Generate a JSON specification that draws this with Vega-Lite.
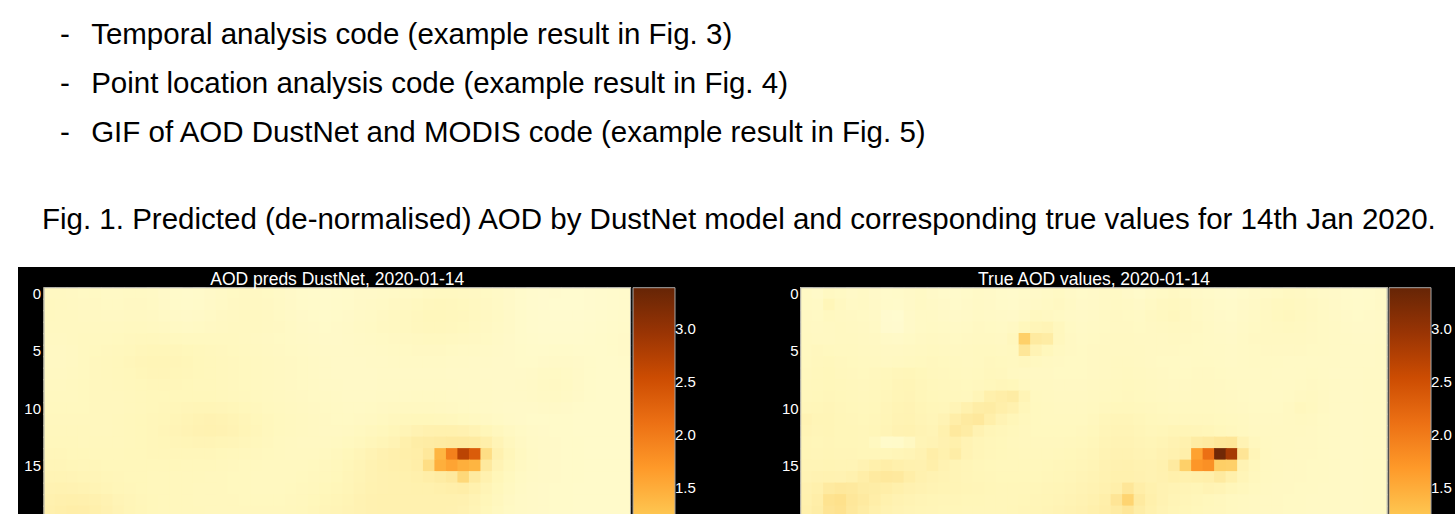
{
"$schema":"https://vega.github.io/schema/vega-lite/v6.json",
"background":"white",
"padding":{"left":18,"top":20,"right":0,"bottom":0},
"title":{"text":["-\u00a0\u00a0\u2006Temporal analysis code (example result in Fig. 3)","-\u00a0\u00a0\u2006Point location analysis code (example result in Fig. 4)","-\u00a0\u00a0\u2006GIF of AOD DustNet and MODIS code (example result in Fig. 5)"],"anchor":"start","frame":"group","dx":42,"offset":56,"font":"Liberation Sans","fontSize":29.5,"fontWeight":"normal","color":"black","lineHeight":49,"baseline":"top"},
"datasets":{
"left":[
{"c":0,"r":0,"v":0.36},{"c":1,"r":0,"v":0.36},{"c":2,"r":0,"v":0.35},{"c":3,"r":0,"v":0.34},{"c":4,"r":0,"v":0.34},{"c":5,"r":0,"v":0.33},{"c":6,"r":0,"v":0.33},{"c":7,"r":0,"v":0.34},{"c":8,"r":0,"v":0.34},{"c":9,"r":0,"v":0.33},{"c":10,"r":0,"v":0.30},{"c":11,"r":0,"v":0.28},{"c":12,"r":0,"v":0.27},{"c":13,"r":0,"v":0.28},{"c":14,"r":0,"v":0.30},{"c":15,"r":0,"v":0.32},{"c":16,"r":0,"v":0.34},{"c":17,"r":0,"v":0.35},{"c":18,"r":0,"v":0.35},{"c":19,"r":0,"v":0.34},{"c":20,"r":0,"v":0.32},{"c":21,"r":0,"v":0.30},{"c":22,"r":0,"v":0.28},{"c":23,"r":0,"v":0.27},{"c":24,"r":0,"v":0.26},{"c":25,"r":0,"v":0.27},{"c":26,"r":0,"v":0.28},{"c":27,"r":0,"v":0.30},{"c":28,"r":0,"v":0.30},{"c":29,"r":0,"v":0.31},{"c":30,"r":0,"v":0.32},{"c":31,"r":0,"v":0.33},{"c":32,"r":0,"v":0.34},{"c":33,"r":0,"v":0.36},{"c":34,"r":0,"v":0.37},{"c":35,"r":0,"v":0.37},{"c":36,"r":0,"v":0.36},{"c":37,"r":0,"v":0.35},{"c":38,"r":0,"v":0.34},{"c":39,"r":0,"v":0.32},{"c":40,"r":0,"v":0.30},{"c":41,"r":0,"v":0.27},{"c":42,"r":0,"v":0.25},{"c":43,"r":0,"v":0.24},{"c":44,"r":0,"v":0.24},{"c":45,"r":0,"v":0.23},{"c":46,"r":0,"v":0.23},{"c":47,"r":0,"v":0.24},{"c":48,"r":0,"v":0.25},{"c":49,"r":0,"v":0.26},{"c":50,"r":0,"v":0.27},
{"c":0,"r":1,"v":0.38},{"c":1,"r":1,"v":0.37},{"c":2,"r":1,"v":0.36},{"c":3,"r":1,"v":0.35},{"c":4,"r":1,"v":0.35},{"c":5,"r":1,"v":0.34},{"c":6,"r":1,"v":0.34},{"c":7,"r":1,"v":0.35},{"c":8,"r":1,"v":0.35},{"c":9,"r":1,"v":0.34},{"c":10,"r":1,"v":0.31},{"c":11,"r":1,"v":0.29},{"c":12,"r":1,"v":0.28},{"c":13,"r":1,"v":0.29},{"c":14,"r":1,"v":0.31},{"c":15,"r":1,"v":0.33},{"c":16,"r":1,"v":0.35},{"c":17,"r":1,"v":0.36},{"c":18,"r":1,"v":0.36},{"c":19,"r":1,"v":0.35},{"c":20,"r":1,"v":0.33},{"c":21,"r":1,"v":0.31},{"c":22,"r":1,"v":0.29},{"c":23,"r":1,"v":0.28},{"c":24,"r":1,"v":0.27},{"c":25,"r":1,"v":0.28},{"c":26,"r":1,"v":0.29},{"c":27,"r":1,"v":0.31},{"c":28,"r":1,"v":0.32},{"c":29,"r":1,"v":0.33},{"c":30,"r":1,"v":0.35},{"c":31,"r":1,"v":0.36},{"c":32,"r":1,"v":0.38},{"c":33,"r":1,"v":0.40},{"c":34,"r":1,"v":0.41},{"c":35,"r":1,"v":0.40},{"c":36,"r":1,"v":0.39},{"c":37,"r":1,"v":0.37},{"c":38,"r":1,"v":0.35},{"c":39,"r":1,"v":0.33},{"c":40,"r":1,"v":0.30},{"c":41,"r":1,"v":0.27},{"c":42,"r":1,"v":0.25},{"c":43,"r":1,"v":0.24},{"c":44,"r":1,"v":0.23},{"c":45,"r":1,"v":0.23},{"c":46,"r":1,"v":0.23},{"c":47,"r":1,"v":0.24},{"c":48,"r":1,"v":0.25},{"c":49,"r":1,"v":0.26},{"c":50,"r":1,"v":0.27},
{"c":0,"r":2,"v":0.38},{"c":1,"r":2,"v":0.37},{"c":2,"r":2,"v":0.37},{"c":3,"r":2,"v":0.36},{"c":4,"r":2,"v":0.36},{"c":5,"r":2,"v":0.35},{"c":6,"r":2,"v":0.35},{"c":7,"r":2,"v":0.36},{"c":8,"r":2,"v":0.36},{"c":9,"r":2,"v":0.35},{"c":10,"r":2,"v":0.33},{"c":11,"r":2,"v":0.31},{"c":12,"r":2,"v":0.30},{"c":13,"r":2,"v":0.31},{"c":14,"r":2,"v":0.33},{"c":15,"r":2,"v":0.35},{"c":16,"r":2,"v":0.36},{"c":17,"r":2,"v":0.37},{"c":18,"r":2,"v":0.37},{"c":19,"r":2,"v":0.36},{"c":20,"r":2,"v":0.34},{"c":21,"r":2,"v":0.32},{"c":22,"r":2,"v":0.30},{"c":23,"r":2,"v":0.29},{"c":24,"r":2,"v":0.28},{"c":25,"r":2,"v":0.29},{"c":26,"r":2,"v":0.30},{"c":27,"r":2,"v":0.32},{"c":28,"r":2,"v":0.33},{"c":29,"r":2,"v":0.35},{"c":30,"r":2,"v":0.37},{"c":31,"r":2,"v":0.38},{"c":32,"r":2,"v":0.40},{"c":33,"r":2,"v":0.42},{"c":34,"r":2,"v":0.42},{"c":35,"r":2,"v":0.41},{"c":36,"r":2,"v":0.40},{"c":37,"r":2,"v":0.38},{"c":38,"r":2,"v":0.36},{"c":39,"r":2,"v":0.34},{"c":40,"r":2,"v":0.31},{"c":41,"r":2,"v":0.28},{"c":42,"r":2,"v":0.26},{"c":43,"r":2,"v":0.25},{"c":44,"r":2,"v":0.24},{"c":45,"r":2,"v":0.24},{"c":46,"r":2,"v":0.24},{"c":47,"r":2,"v":0.25},{"c":48,"r":2,"v":0.26},{"c":49,"r":2,"v":0.27},{"c":50,"r":2,"v":0.28},
{"c":0,"r":3,"v":0.37},{"c":1,"r":3,"v":0.37},{"c":2,"r":3,"v":0.37},{"c":3,"r":3,"v":0.37},{"c":4,"r":3,"v":0.37},{"c":5,"r":3,"v":0.37},{"c":6,"r":3,"v":0.37},{"c":7,"r":3,"v":0.38},{"c":8,"r":3,"v":0.38},{"c":9,"r":3,"v":0.37},{"c":10,"r":3,"v":0.36},{"c":11,"r":3,"v":0.34},{"c":12,"r":3,"v":0.33},{"c":13,"r":3,"v":0.34},{"c":14,"r":3,"v":0.35},{"c":15,"r":3,"v":0.36},{"c":16,"r":3,"v":0.37},{"c":17,"r":3,"v":0.37},{"c":18,"r":3,"v":0.37},{"c":19,"r":3,"v":0.36},{"c":20,"r":3,"v":0.35},{"c":21,"r":3,"v":0.33},{"c":22,"r":3,"v":0.31},{"c":23,"r":3,"v":0.30},{"c":24,"r":3,"v":0.29},{"c":25,"r":3,"v":0.30},{"c":26,"r":3,"v":0.31},{"c":27,"r":3,"v":0.33},{"c":28,"r":3,"v":0.34},{"c":29,"r":3,"v":0.36},{"c":30,"r":3,"v":0.37},{"c":31,"r":3,"v":0.38},{"c":32,"r":3,"v":0.40},{"c":33,"r":3,"v":0.41},{"c":34,"r":3,"v":0.41},{"c":35,"r":3,"v":0.40},{"c":36,"r":3,"v":0.39},{"c":37,"r":3,"v":0.37},{"c":38,"r":3,"v":0.35},{"c":39,"r":3,"v":0.33},{"c":40,"r":3,"v":0.31},{"c":41,"r":3,"v":0.28},{"c":42,"r":3,"v":0.26},{"c":43,"r":3,"v":0.25},{"c":44,"r":3,"v":0.25},{"c":45,"r":3,"v":0.25},{"c":46,"r":3,"v":0.25},{"c":47,"r":3,"v":0.26},{"c":48,"r":3,"v":0.27},{"c":49,"r":3,"v":0.28},{"c":50,"r":3,"v":0.29},
{"c":0,"r":4,"v":0.36},{"c":1,"r":4,"v":0.36},{"c":2,"r":4,"v":0.37},{"c":3,"r":4,"v":0.38},{"c":4,"r":4,"v":0.38},{"c":5,"r":4,"v":0.38},{"c":6,"r":4,"v":0.39},{"c":7,"r":4,"v":0.40},{"c":8,"r":4,"v":0.41},{"c":9,"r":4,"v":0.41},{"c":10,"r":4,"v":0.40},{"c":11,"r":4,"v":0.39},{"c":12,"r":4,"v":0.38},{"c":13,"r":4,"v":0.38},{"c":14,"r":4,"v":0.38},{"c":15,"r":4,"v":0.38},{"c":16,"r":4,"v":0.38},{"c":17,"r":4,"v":0.37},{"c":18,"r":4,"v":0.36},{"c":19,"r":4,"v":0.35},{"c":20,"r":4,"v":0.34},{"c":21,"r":4,"v":0.33},{"c":22,"r":4,"v":0.32},{"c":23,"r":4,"v":0.31},{"c":24,"r":4,"v":0.30},{"c":25,"r":4,"v":0.30},{"c":26,"r":4,"v":0.31},{"c":27,"r":4,"v":0.32},{"c":28,"r":4,"v":0.33},{"c":29,"r":4,"v":0.34},{"c":30,"r":4,"v":0.35},{"c":31,"r":4,"v":0.36},{"c":32,"r":4,"v":0.37},{"c":33,"r":4,"v":0.38},{"c":34,"r":4,"v":0.38},{"c":35,"r":4,"v":0.37},{"c":36,"r":4,"v":0.36},{"c":37,"r":4,"v":0.35},{"c":38,"r":4,"v":0.34},{"c":39,"r":4,"v":0.32},{"c":40,"r":4,"v":0.30},{"c":41,"r":4,"v":0.28},{"c":42,"r":4,"v":0.27},{"c":43,"r":4,"v":0.26},{"c":44,"r":4,"v":0.26},{"c":45,"r":4,"v":0.26},{"c":46,"r":4,"v":0.26},{"c":47,"r":4,"v":0.27},{"c":48,"r":4,"v":0.28},{"c":49,"r":4,"v":0.29},{"c":50,"r":4,"v":0.30},
{"c":0,"r":5,"v":0.35},{"c":1,"r":5,"v":0.35},{"c":2,"r":5,"v":0.36},{"c":3,"r":5,"v":0.38},{"c":4,"r":5,"v":0.39},{"c":5,"r":5,"v":0.40},{"c":6,"r":5,"v":0.41},{"c":7,"r":5,"v":0.42},{"c":8,"r":5,"v":0.44},{"c":9,"r":5,"v":0.45},{"c":10,"r":5,"v":0.45},{"c":11,"r":5,"v":0.44},{"c":12,"r":5,"v":0.43},{"c":13,"r":5,"v":0.42},{"c":14,"r":5,"v":0.41},{"c":15,"r":5,"v":0.40},{"c":16,"r":5,"v":0.39},{"c":17,"r":5,"v":0.38},{"c":18,"r":5,"v":0.37},{"c":19,"r":5,"v":0.36},{"c":20,"r":5,"v":0.35},{"c":21,"r":5,"v":0.34},{"c":22,"r":5,"v":0.33},{"c":23,"r":5,"v":0.32},{"c":24,"r":5,"v":0.31},{"c":25,"r":5,"v":0.31},{"c":26,"r":5,"v":0.31},{"c":27,"r":5,"v":0.32},{"c":28,"r":5,"v":0.32},{"c":29,"r":5,"v":0.33},{"c":30,"r":5,"v":0.34},{"c":31,"r":5,"v":0.34},{"c":32,"r":5,"v":0.35},{"c":33,"r":5,"v":0.35},{"c":34,"r":5,"v":0.35},{"c":35,"r":5,"v":0.34},{"c":36,"r":5,"v":0.33},{"c":37,"r":5,"v":0.33},{"c":38,"r":5,"v":0.32},{"c":39,"r":5,"v":0.31},{"c":40,"r":5,"v":0.30},{"c":41,"r":5,"v":0.29},{"c":42,"r":5,"v":0.28},{"c":43,"r":5,"v":0.28},{"c":44,"r":5,"v":0.29},{"c":45,"r":5,"v":0.29},{"c":46,"r":5,"v":0.28},{"c":47,"r":5,"v":0.28},{"c":48,"r":5,"v":0.28},{"c":49,"r":5,"v":0.29},{"c":50,"r":5,"v":0.30},
{"c":0,"r":6,"v":0.35},{"c":1,"r":6,"v":0.35},{"c":2,"r":6,"v":0.36},{"c":3,"r":6,"v":0.38},{"c":4,"r":6,"v":0.40},{"c":5,"r":6,"v":0.41},{"c":6,"r":6,"v":0.42},{"c":7,"r":6,"v":0.44},{"c":8,"r":6,"v":0.46},{"c":9,"r":6,"v":0.47},{"c":10,"r":6,"v":0.47},{"c":11,"r":6,"v":0.46},{"c":12,"r":6,"v":0.45},{"c":13,"r":6,"v":0.43},{"c":14,"r":6,"v":0.42},{"c":15,"r":6,"v":0.41},{"c":16,"r":6,"v":0.40},{"c":17,"r":6,"v":0.39},{"c":18,"r":6,"v":0.38},{"c":19,"r":6,"v":0.37},{"c":20,"r":6,"v":0.36},{"c":21,"r":6,"v":0.35},{"c":22,"r":6,"v":0.34},{"c":23,"r":6,"v":0.33},{"c":24,"r":6,"v":0.32},{"c":25,"r":6,"v":0.31},{"c":26,"r":6,"v":0.31},{"c":27,"r":6,"v":0.31},{"c":28,"r":6,"v":0.32},{"c":29,"r":6,"v":0.32},{"c":30,"r":6,"v":0.33},{"c":31,"r":6,"v":0.33},{"c":32,"r":6,"v":0.33},{"c":33,"r":6,"v":0.33},{"c":34,"r":6,"v":0.33},{"c":35,"r":6,"v":0.32},{"c":36,"r":6,"v":0.32},{"c":37,"r":6,"v":0.31},{"c":38,"r":6,"v":0.31},{"c":39,"r":6,"v":0.30},{"c":40,"r":6,"v":0.30},{"c":41,"r":6,"v":0.29},{"c":42,"r":6,"v":0.29},{"c":43,"r":6,"v":0.30},{"c":44,"r":6,"v":0.31},{"c":45,"r":6,"v":0.31},{"c":46,"r":6,"v":0.30},{"c":47,"r":6,"v":0.29},{"c":48,"r":6,"v":0.28},{"c":49,"r":6,"v":0.28},{"c":50,"r":6,"v":0.29},
{"c":0,"r":7,"v":0.36},{"c":1,"r":7,"v":0.36},{"c":2,"r":7,"v":0.37},{"c":3,"r":7,"v":0.38},{"c":4,"r":7,"v":0.40},{"c":5,"r":7,"v":0.41},{"c":6,"r":7,"v":0.42},{"c":7,"r":7,"v":0.43},{"c":8,"r":7,"v":0.45},{"c":9,"r":7,"v":0.46},{"c":10,"r":7,"v":0.46},{"c":11,"r":7,"v":0.45},{"c":12,"r":7,"v":0.44},{"c":13,"r":7,"v":0.43},{"c":14,"r":7,"v":0.42},{"c":15,"r":7,"v":0.41},{"c":16,"r":7,"v":0.40},{"c":17,"r":7,"v":0.39},{"c":18,"r":7,"v":0.38},{"c":19,"r":7,"v":0.37},{"c":20,"r":7,"v":0.36},{"c":21,"r":7,"v":0.35},{"c":22,"r":7,"v":0.34},{"c":23,"r":7,"v":0.33},{"c":24,"r":7,"v":0.32},{"c":25,"r":7,"v":0.31},{"c":26,"r":7,"v":0.31},{"c":27,"r":7,"v":0.31},{"c":28,"r":7,"v":0.31},{"c":29,"r":7,"v":0.32},{"c":30,"r":7,"v":0.32},{"c":31,"r":7,"v":0.32},{"c":32,"r":7,"v":0.32},{"c":33,"r":7,"v":0.32},{"c":34,"r":7,"v":0.32},{"c":35,"r":7,"v":0.31},{"c":36,"r":7,"v":0.31},{"c":37,"r":7,"v":0.31},{"c":38,"r":7,"v":0.30},{"c":39,"r":7,"v":0.30},{"c":40,"r":7,"v":0.30},{"c":41,"r":7,"v":0.30},{"c":42,"r":7,"v":0.31},{"c":43,"r":7,"v":0.33},{"c":44,"r":7,"v":0.34},{"c":45,"r":7,"v":0.33},{"c":46,"r":7,"v":0.31},{"c":47,"r":7,"v":0.29},{"c":48,"r":7,"v":0.28},{"c":49,"r":7,"v":0.28},{"c":50,"r":7,"v":0.28},
{"c":0,"r":8,"v":0.37},{"c":1,"r":8,"v":0.37},{"c":2,"r":8,"v":0.38},{"c":3,"r":8,"v":0.39},{"c":4,"r":8,"v":0.40},{"c":5,"r":8,"v":0.40},{"c":6,"r":8,"v":0.41},{"c":7,"r":8,"v":0.42},{"c":8,"r":8,"v":0.43},{"c":9,"r":8,"v":0.44},{"c":10,"r":8,"v":0.44},{"c":11,"r":8,"v":0.44},{"c":12,"r":8,"v":0.43},{"c":13,"r":8,"v":0.42},{"c":14,"r":8,"v":0.42},{"c":15,"r":8,"v":0.41},{"c":16,"r":8,"v":0.40},{"c":17,"r":8,"v":0.39},{"c":18,"r":8,"v":0.38},{"c":19,"r":8,"v":0.37},{"c":20,"r":8,"v":0.36},{"c":21,"r":8,"v":0.35},{"c":22,"r":8,"v":0.34},{"c":23,"r":8,"v":0.33},{"c":24,"r":8,"v":0.32},{"c":25,"r":8,"v":0.32},{"c":26,"r":8,"v":0.31},{"c":27,"r":8,"v":0.31},{"c":28,"r":8,"v":0.31},{"c":29,"r":8,"v":0.32},{"c":30,"r":8,"v":0.32},{"c":31,"r":8,"v":0.32},{"c":32,"r":8,"v":0.32},{"c":33,"r":8,"v":0.32},{"c":34,"r":8,"v":0.32},{"c":35,"r":8,"v":0.32},{"c":36,"r":8,"v":0.31},{"c":37,"r":8,"v":0.31},{"c":38,"r":8,"v":0.31},{"c":39,"r":8,"v":0.30},{"c":40,"r":8,"v":0.30},{"c":41,"r":8,"v":0.31},{"c":42,"r":8,"v":0.32},{"c":43,"r":8,"v":0.34},{"c":44,"r":8,"v":0.35},{"c":45,"r":8,"v":0.34},{"c":46,"r":8,"v":0.31},{"c":47,"r":8,"v":0.29},{"c":48,"r":8,"v":0.28},{"c":49,"r":8,"v":0.28},{"c":50,"r":8,"v":0.28},
{"c":0,"r":9,"v":0.38},{"c":1,"r":9,"v":0.38},{"c":2,"r":9,"v":0.38},{"c":3,"r":9,"v":0.39},{"c":4,"r":9,"v":0.40},{"c":5,"r":9,"v":0.40},{"c":6,"r":9,"v":0.40},{"c":7,"r":9,"v":0.41},{"c":8,"r":9,"v":0.42},{"c":9,"r":9,"v":0.43},{"c":10,"r":9,"v":0.43},{"c":11,"r":9,"v":0.43},{"c":12,"r":9,"v":0.43},{"c":13,"r":9,"v":0.43},{"c":14,"r":9,"v":0.43},{"c":15,"r":9,"v":0.42},{"c":16,"r":9,"v":0.41},{"c":17,"r":9,"v":0.40},{"c":18,"r":9,"v":0.39},{"c":19,"r":9,"v":0.38},{"c":20,"r":9,"v":0.37},{"c":21,"r":9,"v":0.36},{"c":22,"r":9,"v":0.35},{"c":23,"r":9,"v":0.34},{"c":24,"r":9,"v":0.33},{"c":25,"r":9,"v":0.33},{"c":26,"r":9,"v":0.32},{"c":27,"r":9,"v":0.32},{"c":28,"r":9,"v":0.32},{"c":29,"r":9,"v":0.33},{"c":30,"r":9,"v":0.33},{"c":31,"r":9,"v":0.33},{"c":32,"r":9,"v":0.34},{"c":33,"r":9,"v":0.34},{"c":34,"r":9,"v":0.34},{"c":35,"r":9,"v":0.33},{"c":36,"r":9,"v":0.33},{"c":37,"r":9,"v":0.32},{"c":38,"r":9,"v":0.32},{"c":39,"r":9,"v":0.31},{"c":40,"r":9,"v":0.31},{"c":41,"r":9,"v":0.31},{"c":42,"r":9,"v":0.32},{"c":43,"r":9,"v":0.33},{"c":44,"r":9,"v":0.34},{"c":45,"r":9,"v":0.33},{"c":46,"r":9,"v":0.31},{"c":47,"r":9,"v":0.29},{"c":48,"r":9,"v":0.28},{"c":49,"r":9,"v":0.28},{"c":50,"r":9,"v":0.28},
{"c":0,"r":10,"v":0.39},{"c":1,"r":10,"v":0.39},{"c":2,"r":10,"v":0.39},{"c":3,"r":10,"v":0.39},{"c":4,"r":10,"v":0.40},{"c":5,"r":10,"v":0.40},{"c":6,"r":10,"v":0.40},{"c":7,"r":10,"v":0.41},{"c":8,"r":10,"v":0.42},{"c":9,"r":10,"v":0.43},{"c":10,"r":10,"v":0.44},{"c":11,"r":10,"v":0.45},{"c":12,"r":10,"v":0.46},{"c":13,"r":10,"v":0.47},{"c":14,"r":10,"v":0.47},{"c":15,"r":10,"v":0.46},{"c":16,"r":10,"v":0.45},{"c":17,"r":10,"v":0.43},{"c":18,"r":10,"v":0.41},{"c":19,"r":10,"v":0.39},{"c":20,"r":10,"v":0.38},{"c":21,"r":10,"v":0.37},{"c":22,"r":10,"v":0.36},{"c":23,"r":10,"v":0.35},{"c":24,"r":10,"v":0.34},{"c":25,"r":10,"v":0.34},{"c":26,"r":10,"v":0.33},{"c":27,"r":10,"v":0.33},{"c":28,"r":10,"v":0.34},{"c":29,"r":10,"v":0.35},{"c":30,"r":10,"v":0.36},{"c":31,"r":10,"v":0.37},{"c":32,"r":10,"v":0.37},{"c":33,"r":10,"v":0.37},{"c":34,"r":10,"v":0.36},{"c":35,"r":10,"v":0.35},{"c":36,"r":10,"v":0.34},{"c":37,"r":10,"v":0.33},{"c":38,"r":10,"v":0.32},{"c":39,"r":10,"v":0.31},{"c":40,"r":10,"v":0.30},{"c":41,"r":10,"v":0.30},{"c":42,"r":10,"v":0.30},{"c":43,"r":10,"v":0.31},{"c":44,"r":10,"v":0.31},{"c":45,"r":10,"v":0.30},{"c":46,"r":10,"v":0.29},{"c":47,"r":10,"v":0.28},{"c":48,"r":10,"v":0.28},{"c":49,"r":10,"v":0.28},{"c":50,"r":10,"v":0.28},
{"c":0,"r":11,"v":0.40},{"c":1,"r":11,"v":0.40},{"c":2,"r":11,"v":0.40},{"c":3,"r":11,"v":0.40},{"c":4,"r":11,"v":0.40},{"c":5,"r":11,"v":0.40},{"c":6,"r":11,"v":0.41},{"c":7,"r":11,"v":0.42},{"c":8,"r":11,"v":0.43},{"c":9,"r":11,"v":0.44},{"c":10,"r":11,"v":0.45},{"c":11,"r":11,"v":0.47},{"c":12,"r":11,"v":0.49},{"c":13,"r":11,"v":0.51},{"c":14,"r":11,"v":0.52},{"c":15,"r":11,"v":0.51},{"c":16,"r":11,"v":0.49},{"c":17,"r":11,"v":0.46},{"c":18,"r":11,"v":0.43},{"c":19,"r":11,"v":0.41},{"c":20,"r":11,"v":0.39},{"c":21,"r":11,"v":0.38},{"c":22,"r":11,"v":0.37},{"c":23,"r":11,"v":0.36},{"c":24,"r":11,"v":0.35},{"c":25,"r":11,"v":0.34},{"c":26,"r":11,"v":0.34},{"c":27,"r":11,"v":0.35},{"c":28,"r":11,"v":0.36},{"c":29,"r":11,"v":0.38},{"c":30,"r":11,"v":0.40},{"c":31,"r":11,"v":0.42},{"c":32,"r":11,"v":0.43},{"c":33,"r":11,"v":0.43},{"c":34,"r":11,"v":0.42},{"c":35,"r":11,"v":0.41},{"c":36,"r":11,"v":0.39},{"c":37,"r":11,"v":0.37},{"c":38,"r":11,"v":0.35},{"c":39,"r":11,"v":0.33},{"c":40,"r":11,"v":0.31},{"c":41,"r":11,"v":0.30},{"c":42,"r":11,"v":0.29},{"c":43,"r":11,"v":0.29},{"c":44,"r":11,"v":0.29},{"c":45,"r":11,"v":0.29},{"c":46,"r":11,"v":0.28},{"c":47,"r":11,"v":0.28},{"c":48,"r":11,"v":0.28},{"c":49,"r":11,"v":0.28},{"c":50,"r":11,"v":0.28},
{"c":0,"r":12,"v":0.41},{"c":1,"r":12,"v":0.41},{"c":2,"r":12,"v":0.41},{"c":3,"r":12,"v":0.41},{"c":4,"r":12,"v":0.40},{"c":5,"r":12,"v":0.40},{"c":6,"r":12,"v":0.41},{"c":7,"r":12,"v":0.42},{"c":8,"r":12,"v":0.43},{"c":9,"r":12,"v":0.44},{"c":10,"r":12,"v":0.46},{"c":11,"r":12,"v":0.48},{"c":12,"r":12,"v":0.50},{"c":13,"r":12,"v":0.52},{"c":14,"r":12,"v":0.53},{"c":15,"r":12,"v":0.52},{"c":16,"r":12,"v":0.50},{"c":17,"r":12,"v":0.47},{"c":18,"r":12,"v":0.44},{"c":19,"r":12,"v":0.41},{"c":20,"r":12,"v":0.39},{"c":21,"r":12,"v":0.38},{"c":22,"r":12,"v":0.37},{"c":23,"r":12,"v":0.36},{"c":24,"r":12,"v":0.35},{"c":25,"r":12,"v":0.35},{"c":26,"r":12,"v":0.36},{"c":27,"r":12,"v":0.38},{"c":28,"r":12,"v":0.40},{"c":29,"r":12,"v":0.42},{"c":30,"r":12,"v":0.45},{"c":31,"r":12,"v":0.48},{"c":32,"r":12,"v":0.52},{"c":33,"r":12,"v":0.55},{"c":34,"r":12,"v":0.56},{"c":35,"r":12,"v":0.56},{"c":36,"r":12,"v":0.54},{"c":37,"r":12,"v":0.50},{"c":38,"r":12,"v":0.45},{"c":39,"r":12,"v":0.40},{"c":40,"r":12,"v":0.36},{"c":41,"r":12,"v":0.33},{"c":42,"r":12,"v":0.31},{"c":43,"r":12,"v":0.30},{"c":44,"r":12,"v":0.29},{"c":45,"r":12,"v":0.29},{"c":46,"r":12,"v":0.28},{"c":47,"r":12,"v":0.28},{"c":48,"r":12,"v":0.28},{"c":49,"r":12,"v":0.28},{"c":50,"r":12,"v":0.28},
{"c":0,"r":13,"v":0.42},{"c":1,"r":13,"v":0.42},{"c":2,"r":13,"v":0.42},{"c":3,"r":13,"v":0.41},{"c":4,"r":13,"v":0.41},{"c":5,"r":13,"v":0.41},{"c":6,"r":13,"v":0.41},{"c":7,"r":13,"v":0.42},{"c":8,"r":13,"v":0.43},{"c":9,"r":13,"v":0.44},{"c":10,"r":13,"v":0.45},{"c":11,"r":13,"v":0.46},{"c":12,"r":13,"v":0.47},{"c":13,"r":13,"v":0.48},{"c":14,"r":13,"v":0.48},{"c":15,"r":13,"v":0.47},{"c":16,"r":13,"v":0.46},{"c":17,"r":13,"v":0.44},{"c":18,"r":13,"v":0.42},{"c":19,"r":13,"v":0.40},{"c":20,"r":13,"v":0.38},{"c":21,"r":13,"v":0.37},{"c":22,"r":13,"v":0.36},{"c":23,"r":13,"v":0.36},{"c":24,"r":13,"v":0.36},{"c":25,"r":13,"v":0.37},{"c":26,"r":13,"v":0.39},{"c":27,"r":13,"v":0.41},{"c":28,"r":13,"v":0.44},{"c":29,"r":13,"v":0.47},{"c":30,"r":13,"v":0.50},{"c":31,"r":13,"v":0.58},{"c":32,"r":13,"v":0.64},{"c":33,"r":13,"v":0.66},{"c":34,"r":13,"v":0.68},{"c":35,"r":13,"v":0.70},{"c":36,"r":13,"v":0.70},{"c":37,"r":13,"v":0.68},{"c":38,"r":13,"v":0.60},{"c":39,"r":13,"v":0.48},{"c":40,"r":13,"v":0.40},{"c":41,"r":13,"v":0.35},{"c":42,"r":13,"v":0.32},{"c":43,"r":13,"v":0.31},{"c":44,"r":13,"v":0.30},{"c":45,"r":13,"v":0.29},{"c":46,"r":13,"v":0.29},{"c":47,"r":13,"v":0.28},{"c":48,"r":13,"v":0.28},{"c":49,"r":13,"v":0.28},{"c":50,"r":13,"v":0.28},
{"c":0,"r":14,"v":0.44},{"c":1,"r":14,"v":0.44},{"c":2,"r":14,"v":0.43},{"c":3,"r":14,"v":0.43},{"c":4,"r":14,"v":0.42},{"c":5,"r":14,"v":0.42},{"c":6,"r":14,"v":0.42},{"c":7,"r":14,"v":0.43},{"c":8,"r":14,"v":0.43},{"c":9,"r":14,"v":0.44},{"c":10,"r":14,"v":0.44},{"c":11,"r":14,"v":0.44},{"c":12,"r":14,"v":0.44},{"c":13,"r":14,"v":0.44},{"c":14,"r":14,"v":0.44},{"c":15,"r":14,"v":0.43},{"c":16,"r":14,"v":0.42},{"c":17,"r":14,"v":0.41},{"c":18,"r":14,"v":0.40},{"c":19,"r":14,"v":0.39},{"c":20,"r":14,"v":0.38},{"c":21,"r":14,"v":0.37},{"c":22,"r":14,"v":0.37},{"c":23,"r":14,"v":0.37},{"c":24,"r":14,"v":0.38},{"c":25,"r":14,"v":0.40},{"c":26,"r":14,"v":0.43},{"c":27,"r":14,"v":0.46},{"c":28,"r":14,"v":0.50},{"c":29,"r":14,"v":0.54},{"c":30,"r":14,"v":0.57},{"c":31,"r":14,"v":0.60},{"c":32,"r":14,"v":0.62},{"c":33,"r":14,"v":0.75},{"c":34,"r":14,"v":1.42},{"c":35,"r":14,"v":1.95},{"c":36,"r":14,"v":2.68},{"c":37,"r":14,"v":2.35},{"c":38,"r":14,"v":0.92},{"c":39,"r":14,"v":0.55},{"c":40,"r":14,"v":0.44},{"c":41,"r":14,"v":0.37},{"c":42,"r":14,"v":0.33},{"c":43,"r":14,"v":0.31},{"c":44,"r":14,"v":0.30},{"c":45,"r":14,"v":0.29},{"c":46,"r":14,"v":0.29},{"c":47,"r":14,"v":0.28},{"c":48,"r":14,"v":0.28},{"c":49,"r":14,"v":0.28},{"c":50,"r":14,"v":0.28},
{"c":0,"r":15,"v":0.46},{"c":1,"r":15,"v":0.46},{"c":2,"r":15,"v":0.45},{"c":3,"r":15,"v":0.44},{"c":4,"r":15,"v":0.44},{"c":5,"r":15,"v":0.43},{"c":6,"r":15,"v":0.43},{"c":7,"r":15,"v":0.43},{"c":8,"r":15,"v":0.43},{"c":9,"r":15,"v":0.43},{"c":10,"r":15,"v":0.43},{"c":11,"r":15,"v":0.43},{"c":12,"r":15,"v":0.42},{"c":13,"r":15,"v":0.42},{"c":14,"r":15,"v":0.42},{"c":15,"r":15,"v":0.41},{"c":16,"r":15,"v":0.40},{"c":17,"r":15,"v":0.39},{"c":18,"r":15,"v":0.39},{"c":19,"r":15,"v":0.38},{"c":20,"r":15,"v":0.38},{"c":21,"r":15,"v":0.38},{"c":22,"r":15,"v":0.38},{"c":23,"r":15,"v":0.39},{"c":24,"r":15,"v":0.40},{"c":25,"r":15,"v":0.42},{"c":26,"r":15,"v":0.45},{"c":27,"r":15,"v":0.48},{"c":28,"r":15,"v":0.52},{"c":29,"r":15,"v":0.55},{"c":30,"r":15,"v":0.57},{"c":31,"r":15,"v":0.58},{"c":32,"r":15,"v":0.62},{"c":33,"r":15,"v":0.92},{"c":34,"r":15,"v":1.48},{"c":35,"r":15,"v":1.58},{"c":36,"r":15,"v":1.48},{"c":37,"r":15,"v":1.42},{"c":38,"r":15,"v":0.72},{"c":39,"r":15,"v":0.50},{"c":40,"r":15,"v":0.42},{"c":41,"r":15,"v":0.36},{"c":42,"r":15,"v":0.33},{"c":43,"r":15,"v":0.31},{"c":44,"r":15,"v":0.30},{"c":45,"r":15,"v":0.29},{"c":46,"r":15,"v":0.29},{"c":47,"r":15,"v":0.28},{"c":48,"r":15,"v":0.28},{"c":49,"r":15,"v":0.28},{"c":50,"r":15,"v":0.28},
{"c":0,"r":16,"v":0.49},{"c":1,"r":16,"v":0.49},{"c":2,"r":16,"v":0.48},{"c":3,"r":16,"v":0.47},{"c":4,"r":16,"v":0.46},{"c":5,"r":16,"v":0.45},{"c":6,"r":16,"v":0.44},{"c":7,"r":16,"v":0.43},{"c":8,"r":16,"v":0.43},{"c":9,"r":16,"v":0.42},{"c":10,"r":16,"v":0.42},{"c":11,"r":16,"v":0.41},{"c":12,"r":16,"v":0.41},{"c":13,"r":16,"v":0.41},{"c":14,"r":16,"v":0.40},{"c":15,"r":16,"v":0.40},{"c":16,"r":16,"v":0.39},{"c":17,"r":16,"v":0.39},{"c":18,"r":16,"v":0.38},{"c":19,"r":16,"v":0.38},{"c":20,"r":16,"v":0.38},{"c":21,"r":16,"v":0.38},{"c":22,"r":16,"v":0.39},{"c":23,"r":16,"v":0.40},{"c":24,"r":16,"v":0.41},{"c":25,"r":16,"v":0.43},{"c":26,"r":16,"v":0.46},{"c":27,"r":16,"v":0.49},{"c":28,"r":16,"v":0.52},{"c":29,"r":16,"v":0.54},{"c":30,"r":16,"v":0.55},{"c":31,"r":16,"v":0.56},{"c":32,"r":16,"v":0.58},{"c":33,"r":16,"v":0.62},{"c":34,"r":16,"v":0.66},{"c":35,"r":16,"v":0.72},{"c":36,"r":16,"v":1.00},{"c":37,"r":16,"v":0.70},{"c":38,"r":16,"v":0.55},{"c":39,"r":16,"v":0.45},{"c":40,"r":16,"v":0.39},{"c":41,"r":16,"v":0.34},{"c":42,"r":16,"v":0.32},{"c":43,"r":16,"v":0.31},{"c":44,"r":16,"v":0.30},{"c":45,"r":16,"v":0.29},{"c":46,"r":16,"v":0.29},{"c":47,"r":16,"v":0.28},{"c":48,"r":16,"v":0.28},{"c":49,"r":16,"v":0.28},{"c":50,"r":16,"v":0.28},
{"c":0,"r":17,"v":0.52},{"c":1,"r":17,"v":0.53},{"c":2,"r":17,"v":0.52},{"c":3,"r":17,"v":0.51},{"c":4,"r":17,"v":0.49},{"c":5,"r":17,"v":0.47},{"c":6,"r":17,"v":0.45},{"c":7,"r":17,"v":0.44},{"c":8,"r":17,"v":0.43},{"c":9,"r":17,"v":0.42},{"c":10,"r":17,"v":0.42},{"c":11,"r":17,"v":0.41},{"c":12,"r":17,"v":0.41},{"c":13,"r":17,"v":0.40},{"c":14,"r":17,"v":0.40},{"c":15,"r":17,"v":0.40},{"c":16,"r":17,"v":0.39},{"c":17,"r":17,"v":0.39},{"c":18,"r":17,"v":0.38},{"c":19,"r":17,"v":0.38},{"c":20,"r":17,"v":0.38},{"c":21,"r":17,"v":0.39},{"c":22,"r":17,"v":0.40},{"c":23,"r":17,"v":0.41},{"c":24,"r":17,"v":0.43},{"c":25,"r":17,"v":0.45},{"c":26,"r":17,"v":0.47},{"c":27,"r":17,"v":0.50},{"c":28,"r":17,"v":0.53},{"c":29,"r":17,"v":0.54},{"c":30,"r":17,"v":0.55},{"c":31,"r":17,"v":0.55},{"c":32,"r":17,"v":0.56},{"c":33,"r":17,"v":0.56},{"c":34,"r":17,"v":0.58},{"c":35,"r":17,"v":0.60},{"c":36,"r":17,"v":0.62},{"c":37,"r":17,"v":0.56},{"c":38,"r":17,"v":0.48},{"c":39,"r":17,"v":0.42},{"c":40,"r":17,"v":0.37},{"c":41,"r":17,"v":0.33},{"c":42,"r":17,"v":0.31},{"c":43,"r":17,"v":0.30},{"c":44,"r":17,"v":0.29},{"c":45,"r":17,"v":0.29},{"c":46,"r":17,"v":0.28},{"c":47,"r":17,"v":0.28},{"c":48,"r":17,"v":0.28},{"c":49,"r":17,"v":0.28},{"c":50,"r":17,"v":0.28},
{"c":0,"r":18,"v":0.55},{"c":1,"r":18,"v":0.57},{"c":2,"r":18,"v":0.58},{"c":3,"r":18,"v":0.57},{"c":4,"r":18,"v":0.55},{"c":5,"r":18,"v":0.52},{"c":6,"r":18,"v":0.48},{"c":7,"r":18,"v":0.46},{"c":8,"r":18,"v":0.44},{"c":9,"r":18,"v":0.43},{"c":10,"r":18,"v":0.42},{"c":11,"r":18,"v":0.41},{"c":12,"r":18,"v":0.41},{"c":13,"r":18,"v":0.40},{"c":14,"r":18,"v":0.40},{"c":15,"r":18,"v":0.40},{"c":16,"r":18,"v":0.40},{"c":17,"r":18,"v":0.39},{"c":18,"r":18,"v":0.39},{"c":19,"r":18,"v":0.39},{"c":20,"r":18,"v":0.39},{"c":21,"r":18,"v":0.40},{"c":22,"r":18,"v":0.41},{"c":23,"r":18,"v":0.43},{"c":24,"r":18,"v":0.45},{"c":25,"r":18,"v":0.47},{"c":26,"r":18,"v":0.49},{"c":27,"r":18,"v":0.52},{"c":28,"r":18,"v":0.54},{"c":29,"r":18,"v":0.55},{"c":30,"r":18,"v":0.55},{"c":31,"r":18,"v":0.55},{"c":32,"r":18,"v":0.55},{"c":33,"r":18,"v":0.55},{"c":34,"r":18,"v":0.55},{"c":35,"r":18,"v":0.55},{"c":36,"r":18,"v":0.54},{"c":37,"r":18,"v":0.50},{"c":38,"r":18,"v":0.45},{"c":39,"r":18,"v":0.40},{"c":40,"r":18,"v":0.35},{"c":41,"r":18,"v":0.32},{"c":42,"r":18,"v":0.31},{"c":43,"r":18,"v":0.30},{"c":44,"r":18,"v":0.29},{"c":45,"r":18,"v":0.29},{"c":46,"r":18,"v":0.28},{"c":47,"r":18,"v":0.28},{"c":48,"r":18,"v":0.28},{"c":49,"r":18,"v":0.28},{"c":50,"r":18,"v":0.28},
{"c":0,"r":19,"v":0.57},{"c":1,"r":19,"v":0.60},{"c":2,"r":19,"v":0.62},{"c":3,"r":19,"v":0.61},{"c":4,"r":19,"v":0.58},{"c":5,"r":19,"v":0.54},{"c":6,"r":19,"v":0.50},{"c":7,"r":19,"v":0.47},{"c":8,"r":19,"v":0.45},{"c":9,"r":19,"v":0.43},{"c":10,"r":19,"v":0.42},{"c":11,"r":19,"v":0.41},{"c":12,"r":19,"v":0.41},{"c":13,"r":19,"v":0.41},{"c":14,"r":19,"v":0.40},{"c":15,"r":19,"v":0.40},{"c":16,"r":19,"v":0.40},{"c":17,"r":19,"v":0.40},{"c":18,"r":19,"v":0.40},{"c":19,"r":19,"v":0.40},{"c":20,"r":19,"v":0.40},{"c":21,"r":19,"v":0.41},{"c":22,"r":19,"v":0.42},{"c":23,"r":19,"v":0.44},{"c":24,"r":19,"v":0.46},{"c":25,"r":19,"v":0.48},{"c":26,"r":19,"v":0.50},{"c":27,"r":19,"v":0.52},{"c":28,"r":19,"v":0.54},{"c":29,"r":19,"v":0.55},{"c":30,"r":19,"v":0.55},{"c":31,"r":19,"v":0.55},{"c":32,"r":19,"v":0.55},{"c":33,"r":19,"v":0.55},{"c":34,"r":19,"v":0.55},{"c":35,"r":19,"v":0.54},{"c":36,"r":19,"v":0.52},{"c":37,"r":19,"v":0.48},{"c":38,"r":19,"v":0.43},{"c":39,"r":19,"v":0.38},{"c":40,"r":19,"v":0.34},{"c":41,"r":19,"v":0.32},{"c":42,"r":19,"v":0.31},{"c":43,"r":19,"v":0.30},{"c":44,"r":19,"v":0.29},{"c":45,"r":19,"v":0.29},{"c":46,"r":19,"v":0.28},{"c":47,"r":19,"v":0.28},{"c":48,"r":19,"v":0.28},{"c":49,"r":19,"v":0.28},{"c":50,"r":19,"v":0.28}
],
"right":[
{"c":0,"r":0,"v":0.33},{"c":1,"r":0,"v":0.30},{"c":2,"r":0,"v":0.36},{"c":3,"r":0,"v":0.34},{"c":4,"r":0,"v":0.31},{"c":5,"r":0,"v":0.33},{"c":6,"r":0,"v":0.30},{"c":7,"r":0,"v":0.28},{"c":8,"r":0,"v":0.29},{"c":9,"r":0,"v":0.31},{"c":10,"r":0,"v":0.33},{"c":11,"r":0,"v":0.30},{"c":12,"r":0,"v":0.28},{"c":13,"r":0,"v":0.27},{"c":14,"r":0,"v":0.29},{"c":15,"r":0,"v":0.31},{"c":16,"r":0,"v":0.30},{"c":17,"r":0,"v":0.28},{"c":18,"r":0,"v":0.27},{"c":19,"r":0,"v":0.29},{"c":20,"r":0,"v":0.30},{"c":21,"r":0,"v":0.32},{"c":22,"r":0,"v":0.34},{"c":23,"r":0,"v":0.31},{"c":24,"r":0,"v":0.29},{"c":25,"r":0,"v":0.30},{"c":26,"r":0,"v":0.32},{"c":27,"r":0,"v":0.33},{"c":28,"r":0,"v":0.30},{"c":29,"r":0,"v":0.28},{"c":30,"r":0,"v":0.31},{"c":31,"r":0,"v":0.33},{"c":32,"r":0,"v":0.35},{"c":33,"r":0,"v":0.32},{"c":34,"r":0,"v":0.30},{"c":35,"r":0,"v":0.29},{"c":36,"r":0,"v":0.27},{"c":37,"r":0,"v":0.26},{"c":38,"r":0,"v":0.28},{"c":39,"r":0,"v":0.30},{"c":40,"r":0,"v":0.32},{"c":41,"r":0,"v":0.34},{"c":42,"r":0,"v":0.36},{"c":43,"r":0,"v":0.35},{"c":44,"r":0,"v":0.33},{"c":45,"r":0,"v":0.31},{"c":46,"r":0,"v":0.30},{"c":47,"r":0,"v":0.28},{"c":48,"r":0,"v":0.27},{"c":49,"r":0,"v":0.28},{"c":50,"r":0,"v":0.30},
{"c":0,"r":1,"v":0.34},{"c":1,"r":1,"v":0.33},{"c":2,"r":1,"v":0.45},{"c":3,"r":1,"v":0.37},{"c":4,"r":1,"v":0.33},{"c":5,"r":1,"v":0.34},{"c":6,"r":1,"v":0.31},{"c":7,"r":1,"v":0.29},{"c":8,"r":1,"v":0.28},{"c":9,"r":1,"v":0.31},{"c":10,"r":1,"v":0.34},{"c":11,"r":1,"v":0.32},{"c":12,"r":1,"v":0.30},{"c":13,"r":1,"v":0.28},{"c":14,"r":1,"v":0.30},{"c":15,"r":1,"v":0.32},{"c":16,"r":1,"v":0.31},{"c":17,"r":1,"v":0.29},{"c":18,"r":1,"v":0.28},{"c":19,"r":1,"v":0.30},{"c":20,"r":1,"v":0.32},{"c":21,"r":1,"v":0.34},{"c":22,"r":1,"v":0.36},{"c":23,"r":1,"v":0.33},{"c":24,"r":1,"v":0.30},{"c":25,"r":1,"v":0.31},{"c":26,"r":1,"v":0.33},{"c":27,"r":1,"v":0.34},{"c":28,"r":1,"v":0.33},{"c":29,"r":1,"v":0.31},{"c":30,"r":1,"v":0.34},{"c":31,"r":1,"v":0.37},{"c":32,"r":1,"v":0.38},{"c":33,"r":1,"v":0.36},{"c":34,"r":1,"v":0.33},{"c":35,"r":1,"v":0.31},{"c":36,"r":1,"v":0.29},{"c":37,"r":1,"v":0.28},{"c":38,"r":1,"v":0.30},{"c":39,"r":1,"v":0.32},{"c":40,"r":1,"v":0.35},{"c":41,"r":1,"v":0.38},{"c":42,"r":1,"v":0.39},{"c":43,"r":1,"v":0.37},{"c":44,"r":1,"v":0.35},{"c":45,"r":1,"v":0.33},{"c":46,"r":1,"v":0.31},{"c":47,"r":1,"v":0.29},{"c":48,"r":1,"v":0.28},{"c":49,"r":1,"v":0.29},{"c":50,"r":1,"v":0.31},
{"c":0,"r":2,"v":0.35},{"c":1,"r":2,"v":0.34},{"c":2,"r":2,"v":0.38},{"c":3,"r":2,"v":0.36},{"c":4,"r":2,"v":0.35},{"c":5,"r":2,"v":0.34},{"c":6,"r":2,"v":0.32},{"c":7,"r":2,"v":0.24},{"c":8,"r":2,"v":0.23},{"c":9,"r":2,"v":0.30},{"c":10,"r":2,"v":0.33},{"c":11,"r":2,"v":0.33},{"c":12,"r":2,"v":0.31},{"c":13,"r":2,"v":0.30},{"c":14,"r":2,"v":0.31},{"c":15,"r":2,"v":0.33},{"c":16,"r":2,"v":0.32},{"c":17,"r":2,"v":0.31},{"c":18,"r":2,"v":0.30},{"c":19,"r":2,"v":0.33},{"c":20,"r":2,"v":0.38},{"c":21,"r":2,"v":0.36},{"c":22,"r":2,"v":0.34},{"c":23,"r":2,"v":0.32},{"c":24,"r":2,"v":0.31},{"c":25,"r":2,"v":0.32},{"c":26,"r":2,"v":0.34},{"c":27,"r":2,"v":0.35},{"c":28,"r":2,"v":0.34},{"c":29,"r":2,"v":0.33},{"c":30,"r":2,"v":0.36},{"c":31,"r":2,"v":0.38},{"c":32,"r":2,"v":0.40},{"c":33,"r":2,"v":0.37},{"c":34,"r":2,"v":0.34},{"c":35,"r":2,"v":0.32},{"c":36,"r":2,"v":0.30},{"c":37,"r":2,"v":0.29},{"c":38,"r":2,"v":0.31},{"c":39,"r":2,"v":0.33},{"c":40,"r":2,"v":0.36},{"c":41,"r":2,"v":0.39},{"c":42,"r":2,"v":0.40},{"c":43,"r":2,"v":0.38},{"c":44,"r":2,"v":0.36},{"c":45,"r":2,"v":0.34},{"c":46,"r":2,"v":0.32},{"c":47,"r":2,"v":0.30},{"c":48,"r":2,"v":0.29},{"c":49,"r":2,"v":0.30},{"c":50,"r":2,"v":0.31},
{"c":0,"r":3,"v":0.36},{"c":1,"r":3,"v":0.35},{"c":2,"r":3,"v":0.36},{"c":3,"r":3,"v":0.37},{"c":4,"r":3,"v":0.36},{"c":5,"r":3,"v":0.35},{"c":6,"r":3,"v":0.33},{"c":7,"r":3,"v":0.25},{"c":8,"r":3,"v":0.24},{"c":9,"r":3,"v":0.30},{"c":10,"r":3,"v":0.33},{"c":11,"r":3,"v":0.34},{"c":12,"r":3,"v":0.33},{"c":13,"r":3,"v":0.32},{"c":14,"r":3,"v":0.33},{"c":15,"r":3,"v":0.35},{"c":16,"r":3,"v":0.34},{"c":17,"r":3,"v":0.33},{"c":18,"r":3,"v":0.35},{"c":19,"r":3,"v":0.42},{"c":20,"r":3,"v":0.46},{"c":21,"r":3,"v":0.48},{"c":22,"r":3,"v":0.40},{"c":23,"r":3,"v":0.34},{"c":24,"r":3,"v":0.32},{"c":25,"r":3,"v":0.33},{"c":26,"r":3,"v":0.34},{"c":27,"r":3,"v":0.35},{"c":28,"r":3,"v":0.35},{"c":29,"r":3,"v":0.34},{"c":30,"r":3,"v":0.35},{"c":31,"r":3,"v":0.36},{"c":32,"r":3,"v":0.37},{"c":33,"r":3,"v":0.36},{"c":34,"r":3,"v":0.35},{"c":35,"r":3,"v":0.33},{"c":36,"r":3,"v":0.31},{"c":37,"r":3,"v":0.30},{"c":38,"r":3,"v":0.32},{"c":39,"r":3,"v":0.34},{"c":40,"r":3,"v":0.36},{"c":41,"r":3,"v":0.37},{"c":42,"r":3,"v":0.38},{"c":43,"r":3,"v":0.37},{"c":44,"r":3,"v":0.35},{"c":45,"r":3,"v":0.34},{"c":46,"r":3,"v":0.33},{"c":47,"r":3,"v":0.31},{"c":48,"r":3,"v":0.30},{"c":49,"r":3,"v":0.30},{"c":50,"r":3,"v":0.31},
{"c":0,"r":4,"v":0.37},{"c":1,"r":4,"v":0.36},{"c":2,"r":4,"v":0.36},{"c":3,"r":4,"v":0.37},{"c":4,"r":4,"v":0.37},{"c":5,"r":4,"v":0.36},{"c":6,"r":4,"v":0.35},{"c":7,"r":4,"v":0.32},{"c":8,"r":4,"v":0.31},{"c":9,"r":4,"v":0.33},{"c":10,"r":4,"v":0.35},{"c":11,"r":4,"v":0.36},{"c":12,"r":4,"v":0.35},{"c":13,"r":4,"v":0.34},{"c":14,"r":4,"v":0.35},{"c":15,"r":4,"v":0.36},{"c":16,"r":4,"v":0.36},{"c":17,"r":4,"v":0.35},{"c":18,"r":4,"v":0.40},{"c":19,"r":4,"v":1.10},{"c":20,"r":4,"v":0.70},{"c":21,"r":4,"v":0.66},{"c":22,"r":4,"v":0.40},{"c":23,"r":4,"v":0.35},{"c":24,"r":4,"v":0.33},{"c":25,"r":4,"v":0.34},{"c":26,"r":4,"v":0.35},{"c":27,"r":4,"v":0.36},{"c":28,"r":4,"v":0.36},{"c":29,"r":4,"v":0.35},{"c":30,"r":4,"v":0.35},{"c":31,"r":4,"v":0.35},{"c":32,"r":4,"v":0.36},{"c":33,"r":4,"v":0.35},{"c":34,"r":4,"v":0.34},{"c":35,"r":4,"v":0.33},{"c":36,"r":4,"v":0.32},{"c":37,"r":4,"v":0.31},{"c":38,"r":4,"v":0.33},{"c":39,"r":4,"v":0.35},{"c":40,"r":4,"v":0.36},{"c":41,"r":4,"v":0.36},{"c":42,"r":4,"v":0.36},{"c":43,"r":4,"v":0.36},{"c":44,"r":4,"v":0.35},{"c":45,"r":4,"v":0.34},{"c":46,"r":4,"v":0.33},{"c":47,"r":4,"v":0.32},{"c":48,"r":4,"v":0.31},{"c":49,"r":4,"v":0.31},{"c":50,"r":4,"v":0.32},
{"c":0,"r":5,"v":0.38},{"c":1,"r":5,"v":0.40},{"c":2,"r":5,"v":0.39},{"c":3,"r":5,"v":0.38},{"c":4,"r":5,"v":0.38},{"c":5,"r":5,"v":0.37},{"c":6,"r":5,"v":0.36},{"c":7,"r":5,"v":0.35},{"c":8,"r":5,"v":0.35},{"c":9,"r":5,"v":0.36},{"c":10,"r":5,"v":0.37},{"c":11,"r":5,"v":0.38},{"c":12,"r":5,"v":0.37},{"c":13,"r":5,"v":0.36},{"c":14,"r":5,"v":0.37},{"c":15,"r":5,"v":0.38},{"c":16,"r":5,"v":0.38},{"c":17,"r":5,"v":0.37},{"c":18,"r":5,"v":0.38},{"c":19,"r":5,"v":0.78},{"c":20,"r":5,"v":0.50},{"c":21,"r":5,"v":0.42},{"c":22,"r":5,"v":0.37},{"c":23,"r":5,"v":0.35},{"c":24,"r":5,"v":0.34},{"c":25,"r":5,"v":0.35},{"c":26,"r":5,"v":0.36},{"c":27,"r":5,"v":0.36},{"c":28,"r":5,"v":0.36},{"c":29,"r":5,"v":0.36},{"c":30,"r":5,"v":0.35},{"c":31,"r":5,"v":0.35},{"c":32,"r":5,"v":0.35},{"c":33,"r":5,"v":0.34},{"c":34,"r":5,"v":0.34},{"c":35,"r":5,"v":0.33},{"c":36,"r":5,"v":0.33},{"c":37,"r":5,"v":0.32},{"c":38,"r":5,"v":0.33},{"c":39,"r":5,"v":0.34},{"c":40,"r":5,"v":0.35},{"c":41,"r":5,"v":0.35},{"c":42,"r":5,"v":0.35},{"c":43,"r":5,"v":0.35},{"c":44,"r":5,"v":0.34},{"c":45,"r":5,"v":0.34},{"c":46,"r":5,"v":0.33},{"c":47,"r":5,"v":0.32},{"c":48,"r":5,"v":0.32},{"c":49,"r":5,"v":0.32},{"c":50,"r":5,"v":0.33},
{"c":0,"r":6,"v":0.39},{"c":1,"r":6,"v":0.41},{"c":2,"r":6,"v":0.42},{"c":3,"r":6,"v":0.40},{"c":4,"r":6,"v":0.39},{"c":5,"r":6,"v":0.38},{"c":6,"r":6,"v":0.37},{"c":7,"r":6,"v":0.36},{"c":8,"r":6,"v":0.37},{"c":9,"r":6,"v":0.38},{"c":10,"r":6,"v":0.39},{"c":11,"r":6,"v":0.40},{"c":12,"r":6,"v":0.39},{"c":13,"r":6,"v":0.38},{"c":14,"r":6,"v":0.37},{"c":15,"r":6,"v":0.38},{"c":16,"r":6,"v":0.40},{"c":17,"r":6,"v":0.39},{"c":18,"r":6,"v":0.38},{"c":19,"r":6,"v":0.40},{"c":20,"r":6,"v":0.38},{"c":21,"r":6,"v":0.36},{"c":22,"r":6,"v":0.35},{"c":23,"r":6,"v":0.34},{"c":24,"r":6,"v":0.34},{"c":25,"r":6,"v":0.35},{"c":26,"r":6,"v":0.36},{"c":27,"r":6,"v":0.37},{"c":28,"r":6,"v":0.37},{"c":29,"r":6,"v":0.36},{"c":30,"r":6,"v":0.35},{"c":31,"r":6,"v":0.34},{"c":32,"r":6,"v":0.34},{"c":33,"r":6,"v":0.33},{"c":34,"r":6,"v":0.34},{"c":35,"r":6,"v":0.34},{"c":36,"r":6,"v":0.33},{"c":37,"r":6,"v":0.32},{"c":38,"r":6,"v":0.33},{"c":39,"r":6,"v":0.34},{"c":40,"r":6,"v":0.34},{"c":41,"r":6,"v":0.34},{"c":42,"r":6,"v":0.33},{"c":43,"r":6,"v":0.33},{"c":44,"r":6,"v":0.33},{"c":45,"r":6,"v":0.33},{"c":46,"r":6,"v":0.33},{"c":47,"r":6,"v":0.32},{"c":48,"r":6,"v":0.32},{"c":49,"r":6,"v":0.32},{"c":50,"r":6,"v":0.33},
{"c":0,"r":7,"v":0.40},{"c":1,"r":7,"v":0.42},{"c":2,"r":7,"v":0.43},{"c":3,"r":7,"v":0.41},{"c":4,"r":7,"v":0.40},{"c":5,"r":7,"v":0.39},{"c":6,"r":7,"v":0.40},{"c":7,"r":7,"v":0.42},{"c":8,"r":7,"v":0.44},{"c":9,"r":7,"v":0.45},{"c":10,"r":7,"v":0.43},{"c":11,"r":7,"v":0.41},{"c":12,"r":7,"v":0.40},{"c":13,"r":7,"v":0.39},{"c":14,"r":7,"v":0.38},{"c":15,"r":7,"v":0.39},{"c":16,"r":7,"v":0.41},{"c":17,"r":7,"v":0.40},{"c":18,"r":7,"v":0.37},{"c":19,"r":7,"v":0.36},{"c":20,"r":7,"v":0.35},{"c":21,"r":7,"v":0.35},{"c":22,"r":7,"v":0.34},{"c":23,"r":7,"v":0.34},{"c":24,"r":7,"v":0.34},{"c":25,"r":7,"v":0.35},{"c":26,"r":7,"v":0.36},{"c":27,"r":7,"v":0.37},{"c":28,"r":7,"v":0.38},{"c":29,"r":7,"v":0.37},{"c":30,"r":7,"v":0.36},{"c":31,"r":7,"v":0.35},{"c":32,"r":7,"v":0.34},{"c":33,"r":7,"v":0.34},{"c":34,"r":7,"v":0.35},{"c":35,"r":7,"v":0.35},{"c":36,"r":7,"v":0.34},{"c":37,"r":7,"v":0.33},{"c":38,"r":7,"v":0.33},{"c":39,"r":7,"v":0.33},{"c":40,"r":7,"v":0.34},{"c":41,"r":7,"v":0.33},{"c":42,"r":7,"v":0.33},{"c":43,"r":7,"v":0.33},{"c":44,"r":7,"v":0.34},{"c":45,"r":7,"v":0.33},{"c":46,"r":7,"v":0.32},{"c":47,"r":7,"v":0.32},{"c":48,"r":7,"v":0.32},{"c":49,"r":7,"v":0.33},{"c":50,"r":7,"v":0.33},
{"c":0,"r":8,"v":0.41},{"c":1,"r":8,"v":0.42},{"c":2,"r":8,"v":0.43},{"c":3,"r":8,"v":0.42},{"c":4,"r":8,"v":0.41},{"c":5,"r":8,"v":0.40},{"c":6,"r":8,"v":0.41},{"c":7,"r":8,"v":0.43},{"c":8,"r":8,"v":0.46},{"c":9,"r":8,"v":0.47},{"c":10,"r":8,"v":0.44},{"c":11,"r":8,"v":0.42},{"c":12,"r":8,"v":0.41},{"c":13,"r":8,"v":0.40},{"c":14,"r":8,"v":0.39},{"c":15,"r":8,"v":0.40},{"c":16,"r":8,"v":0.42},{"c":17,"r":8,"v":0.44},{"c":18,"r":8,"v":0.43},{"c":19,"r":8,"v":0.38},{"c":20,"r":8,"v":0.36},{"c":21,"r":8,"v":0.36},{"c":22,"r":8,"v":0.35},{"c":23,"r":8,"v":0.35},{"c":24,"r":8,"v":0.35},{"c":25,"r":8,"v":0.36},{"c":26,"r":8,"v":0.37},{"c":27,"r":8,"v":0.38},{"c":28,"r":8,"v":0.39},{"c":29,"r":8,"v":0.38},{"c":30,"r":8,"v":0.37},{"c":31,"r":8,"v":0.36},{"c":32,"r":8,"v":0.35},{"c":33,"r":8,"v":0.35},{"c":34,"r":8,"v":0.36},{"c":35,"r":8,"v":0.36},{"c":36,"r":8,"v":0.35},{"c":37,"r":8,"v":0.34},{"c":38,"r":8,"v":0.33},{"c":39,"r":8,"v":0.33},{"c":40,"r":8,"v":0.33},{"c":41,"r":8,"v":0.33},{"c":42,"r":8,"v":0.33},{"c":43,"r":8,"v":0.34},{"c":44,"r":8,"v":0.35},{"c":45,"r":8,"v":0.34},{"c":46,"r":8,"v":0.33},{"c":47,"r":8,"v":0.32},{"c":48,"r":8,"v":0.32},{"c":49,"r":8,"v":0.33},{"c":50,"r":8,"v":0.33},
{"c":0,"r":9,"v":0.42},{"c":1,"r":9,"v":0.43},{"c":2,"r":9,"v":0.44},{"c":3,"r":9,"v":0.43},{"c":4,"r":9,"v":0.42},{"c":5,"r":9,"v":0.41},{"c":6,"r":9,"v":0.42},{"c":7,"r":9,"v":0.44},{"c":8,"r":9,"v":0.47},{"c":9,"r":9,"v":0.48},{"c":10,"r":9,"v":0.45},{"c":11,"r":9,"v":0.43},{"c":12,"r":9,"v":0.42},{"c":13,"r":9,"v":0.41},{"c":14,"r":9,"v":0.40},{"c":15,"r":9,"v":0.46},{"c":16,"r":9,"v":0.58},{"c":17,"r":9,"v":0.62},{"c":18,"r":9,"v":0.66},{"c":19,"r":9,"v":0.48},{"c":20,"r":9,"v":0.38},{"c":21,"r":9,"v":0.37},{"c":22,"r":9,"v":0.36},{"c":23,"r":9,"v":0.36},{"c":24,"r":9,"v":0.36},{"c":25,"r":9,"v":0.37},{"c":26,"r":9,"v":0.38},{"c":27,"r":9,"v":0.39},{"c":28,"r":9,"v":0.40},{"c":29,"r":9,"v":0.39},{"c":30,"r":9,"v":0.38},{"c":31,"r":9,"v":0.37},{"c":32,"r":9,"v":0.36},{"c":33,"r":9,"v":0.36},{"c":34,"r":9,"v":0.37},{"c":35,"r":9,"v":0.37},{"c":36,"r":9,"v":0.36},{"c":37,"r":9,"v":0.35},{"c":38,"r":9,"v":0.34},{"c":39,"r":9,"v":0.33},{"c":40,"r":9,"v":0.33},{"c":41,"r":9,"v":0.33},{"c":42,"r":9,"v":0.34},{"c":43,"r":9,"v":0.36},{"c":44,"r":9,"v":0.37},{"c":45,"r":9,"v":0.35},{"c":46,"r":9,"v":0.33},{"c":47,"r":9,"v":0.32},{"c":48,"r":9,"v":0.32},{"c":49,"r":9,"v":0.33},{"c":50,"r":9,"v":0.33},
{"c":0,"r":10,"v":0.44},{"c":1,"r":10,"v":0.45},{"c":2,"r":10,"v":0.46},{"c":3,"r":10,"v":0.44},{"c":4,"r":10,"v":0.43},{"c":5,"r":10,"v":0.42},{"c":6,"r":10,"v":0.43},{"c":7,"r":10,"v":0.46},{"c":8,"r":10,"v":0.49},{"c":9,"r":10,"v":0.50},{"c":10,"r":10,"v":0.47},{"c":11,"r":10,"v":0.45},{"c":12,"r":10,"v":0.44},{"c":13,"r":10,"v":0.48},{"c":14,"r":10,"v":0.56},{"c":15,"r":10,"v":0.64},{"c":16,"r":10,"v":0.66},{"c":17,"r":10,"v":0.60},{"c":18,"r":10,"v":0.55},{"c":19,"r":10,"v":0.44},{"c":20,"r":10,"v":0.39},{"c":21,"r":10,"v":0.38},{"c":22,"r":10,"v":0.37},{"c":23,"r":10,"v":0.37},{"c":24,"r":10,"v":0.37},{"c":25,"r":10,"v":0.38},{"c":26,"r":10,"v":0.40},{"c":27,"r":10,"v":0.42},{"c":28,"r":10,"v":0.42},{"c":29,"r":10,"v":0.41},{"c":30,"r":10,"v":0.40},{"c":31,"r":10,"v":0.39},{"c":32,"r":10,"v":0.38},{"c":33,"r":10,"v":0.38},{"c":34,"r":10,"v":0.38},{"c":35,"r":10,"v":0.38},{"c":36,"r":10,"v":0.37},{"c":37,"r":10,"v":0.36},{"c":38,"r":10,"v":0.35},{"c":39,"r":10,"v":0.34},{"c":40,"r":10,"v":0.34},{"c":41,"r":10,"v":0.34},{"c":42,"r":10,"v":0.36},{"c":43,"r":10,"v":0.40},{"c":44,"r":10,"v":0.38},{"c":45,"r":10,"v":0.35},{"c":46,"r":10,"v":0.33},{"c":47,"r":10,"v":0.32},{"c":48,"r":10,"v":0.32},{"c":49,"r":10,"v":0.33},{"c":50,"r":10,"v":0.33},
{"c":0,"r":11,"v":0.50},{"c":1,"r":11,"v":0.47},{"c":2,"r":11,"v":0.47},{"c":3,"r":11,"v":0.45},{"c":4,"r":11,"v":0.44},{"c":5,"r":11,"v":0.43},{"c":6,"r":11,"v":0.44},{"c":7,"r":11,"v":0.47},{"c":8,"r":11,"v":0.50},{"c":9,"r":11,"v":0.51},{"c":10,"r":11,"v":0.48},{"c":11,"r":11,"v":0.46},{"c":12,"r":11,"v":0.50},{"c":13,"r":11,"v":0.62},{"c":14,"r":11,"v":0.70},{"c":15,"r":11,"v":0.74},{"c":16,"r":11,"v":0.60},{"c":17,"r":11,"v":0.50},{"c":18,"r":11,"v":0.45},{"c":19,"r":11,"v":0.41},{"c":20,"r":11,"v":0.39},{"c":21,"r":11,"v":0.38},{"c":22,"r":11,"v":0.38},{"c":23,"r":11,"v":0.38},{"c":24,"r":11,"v":0.38},{"c":25,"r":11,"v":0.40},{"c":26,"r":11,"v":0.44},{"c":27,"r":11,"v":0.46},{"c":28,"r":11,"v":0.46},{"c":29,"r":11,"v":0.44},{"c":30,"r":11,"v":0.42},{"c":31,"r":11,"v":0.41},{"c":32,"r":11,"v":0.40},{"c":33,"r":11,"v":0.40},{"c":34,"r":11,"v":0.40},{"c":35,"r":11,"v":0.40},{"c":36,"r":11,"v":0.39},{"c":37,"r":11,"v":0.38},{"c":38,"r":11,"v":0.37},{"c":39,"r":11,"v":0.35},{"c":40,"r":11,"v":0.35},{"c":41,"r":11,"v":0.35},{"c":42,"r":11,"v":0.36},{"c":43,"r":11,"v":0.37},{"c":44,"r":11,"v":0.36},{"c":45,"r":11,"v":0.34},{"c":46,"r":11,"v":0.33},{"c":47,"r":11,"v":0.32},{"c":48,"r":11,"v":0.32},{"c":49,"r":11,"v":0.33},{"c":50,"r":11,"v":0.33},
{"c":0,"r":12,"v":0.48},{"c":1,"r":12,"v":0.46},{"c":2,"r":12,"v":0.47},{"c":3,"r":12,"v":0.45},{"c":4,"r":12,"v":0.45},{"c":5,"r":12,"v":0.44},{"c":6,"r":12,"v":0.45},{"c":7,"r":12,"v":0.48},{"c":8,"r":12,"v":0.52},{"c":9,"r":12,"v":0.53},{"c":10,"r":12,"v":0.50},{"c":11,"r":12,"v":0.48},{"c":12,"r":12,"v":0.56},{"c":13,"r":12,"v":0.72},{"c":14,"r":12,"v":0.66},{"c":15,"r":12,"v":0.52},{"c":16,"r":12,"v":0.46},{"c":17,"r":12,"v":0.44},{"c":18,"r":12,"v":0.42},{"c":19,"r":12,"v":0.40},{"c":20,"r":12,"v":0.39},{"c":21,"r":12,"v":0.39},{"c":22,"r":12,"v":0.39},{"c":23,"r":12,"v":0.39},{"c":24,"r":12,"v":0.40},{"c":25,"r":12,"v":0.42},{"c":26,"r":12,"v":0.46},{"c":27,"r":12,"v":0.48},{"c":28,"r":12,"v":0.48},{"c":29,"r":12,"v":0.46},{"c":30,"r":12,"v":0.44},{"c":31,"r":12,"v":0.45},{"c":32,"r":12,"v":0.47},{"c":33,"r":12,"v":0.47},{"c":34,"r":12,"v":0.46},{"c":35,"r":12,"v":0.45},{"c":36,"r":12,"v":0.42},{"c":37,"r":12,"v":0.40},{"c":38,"r":12,"v":0.38},{"c":39,"r":12,"v":0.36},{"c":40,"r":12,"v":0.36},{"c":41,"r":12,"v":0.36},{"c":42,"r":12,"v":0.36},{"c":43,"r":12,"v":0.36},{"c":44,"r":12,"v":0.35},{"c":45,"r":12,"v":0.34},{"c":46,"r":12,"v":0.33},{"c":47,"r":12,"v":0.32},{"c":48,"r":12,"v":0.32},{"c":49,"r":12,"v":0.33},{"c":50,"r":12,"v":0.33},
{"c":0,"r":13,"v":0.46},{"c":1,"r":13,"v":0.45},{"c":2,"r":13,"v":0.46},{"c":3,"r":13,"v":0.45},{"c":4,"r":13,"v":0.45},{"c":5,"r":13,"v":0.44},{"c":6,"r":13,"v":0.38},{"c":7,"r":13,"v":0.28},{"c":8,"r":13,"v":0.29},{"c":9,"r":13,"v":0.36},{"c":10,"r":13,"v":0.48},{"c":11,"r":13,"v":0.50},{"c":12,"r":13,"v":0.54},{"c":13,"r":13,"v":0.58},{"c":14,"r":13,"v":0.50},{"c":15,"r":13,"v":0.46},{"c":16,"r":13,"v":0.44},{"c":17,"r":13,"v":0.43},{"c":18,"r":13,"v":0.41},{"c":19,"r":13,"v":0.40},{"c":20,"r":13,"v":0.40},{"c":21,"r":13,"v":0.40},{"c":22,"r":13,"v":0.40},{"c":23,"r":13,"v":0.41},{"c":24,"r":13,"v":0.42},{"c":25,"r":13,"v":0.44},{"c":26,"r":13,"v":0.48},{"c":27,"r":13,"v":0.50},{"c":28,"r":13,"v":0.50},{"c":29,"r":13,"v":0.48},{"c":30,"r":13,"v":0.47},{"c":31,"r":13,"v":0.49},{"c":32,"r":13,"v":0.52},{"c":33,"r":13,"v":0.56},{"c":34,"r":13,"v":0.66},{"c":35,"r":13,"v":0.70},{"c":36,"r":13,"v":0.76},{"c":37,"r":13,"v":0.78},{"c":38,"r":13,"v":0.50},{"c":39,"r":13,"v":0.40},{"c":40,"r":13,"v":0.37},{"c":41,"r":13,"v":0.36},{"c":42,"r":13,"v":0.36},{"c":43,"r":13,"v":0.35},{"c":44,"r":13,"v":0.35},{"c":45,"r":13,"v":0.34},{"c":46,"r":13,"v":0.33},{"c":47,"r":13,"v":0.32},{"c":48,"r":13,"v":0.32},{"c":49,"r":13,"v":0.33},{"c":50,"r":13,"v":0.33},
{"c":0,"r":14,"v":0.47},{"c":1,"r":14,"v":0.46},{"c":2,"r":14,"v":0.47},{"c":3,"r":14,"v":0.46},{"c":4,"r":14,"v":0.46},{"c":5,"r":14,"v":0.45},{"c":6,"r":14,"v":0.44},{"c":7,"r":14,"v":0.44},{"c":8,"r":14,"v":0.46},{"c":9,"r":14,"v":0.48},{"c":10,"r":14,"v":0.52},{"c":11,"r":14,"v":0.62},{"c":12,"r":14,"v":0.56},{"c":13,"r":14,"v":0.64},{"c":14,"r":14,"v":0.50},{"c":15,"r":14,"v":0.46},{"c":16,"r":14,"v":0.44},{"c":17,"r":14,"v":0.43},{"c":18,"r":14,"v":0.42},{"c":19,"r":14,"v":0.41},{"c":20,"r":14,"v":0.41},{"c":21,"r":14,"v":0.41},{"c":22,"r":14,"v":0.42},{"c":23,"r":14,"v":0.43},{"c":24,"r":14,"v":0.44},{"c":25,"r":14,"v":0.46},{"c":26,"r":14,"v":0.50},{"c":27,"r":14,"v":0.52},{"c":28,"r":14,"v":0.52},{"c":29,"r":14,"v":0.50},{"c":30,"r":14,"v":0.49},{"c":31,"r":14,"v":0.52},{"c":32,"r":14,"v":0.55},{"c":33,"r":14,"v":0.60},{"c":34,"r":14,"v":1.60},{"c":35,"r":14,"v":2.12},{"c":36,"r":14,"v":3.30},{"c":37,"r":14,"v":2.85},{"c":38,"r":14,"v":0.80},{"c":39,"r":14,"v":0.46},{"c":40,"r":14,"v":0.38},{"c":41,"r":14,"v":0.36},{"c":42,"r":14,"v":0.36},{"c":43,"r":14,"v":0.35},{"c":44,"r":14,"v":0.35},{"c":45,"r":14,"v":0.34},{"c":46,"r":14,"v":0.33},{"c":47,"r":14,"v":0.32},{"c":48,"r":14,"v":0.32},{"c":49,"r":14,"v":0.33},{"c":50,"r":14,"v":0.33},
{"c":0,"r":15,"v":0.48},{"c":1,"r":15,"v":0.48},{"c":2,"r":15,"v":0.49},{"c":3,"r":15,"v":0.48},{"c":4,"r":15,"v":0.48},{"c":5,"r":15,"v":0.52},{"c":6,"r":15,"v":0.58},{"c":7,"r":15,"v":0.62},{"c":8,"r":15,"v":0.58},{"c":9,"r":15,"v":0.55},{"c":10,"r":15,"v":0.54},{"c":11,"r":15,"v":0.60},{"c":12,"r":15,"v":0.52},{"c":13,"r":15,"v":0.48},{"c":14,"r":15,"v":0.46},{"c":15,"r":15,"v":0.44},{"c":16,"r":15,"v":0.43},{"c":17,"r":15,"v":0.42},{"c":18,"r":15,"v":0.42},{"c":19,"r":15,"v":0.42},{"c":20,"r":15,"v":0.42},{"c":21,"r":15,"v":0.43},{"c":22,"r":15,"v":0.44},{"c":23,"r":15,"v":0.45},{"c":24,"r":15,"v":0.46},{"c":25,"r":15,"v":0.48},{"c":26,"r":15,"v":0.52},{"c":27,"r":15,"v":0.54},{"c":28,"r":15,"v":0.55},{"c":29,"r":15,"v":0.53},{"c":30,"r":15,"v":0.52},{"c":31,"r":15,"v":0.55},{"c":32,"r":15,"v":0.70},{"c":33,"r":15,"v":1.10},{"c":34,"r":15,"v":1.72},{"c":35,"r":15,"v":1.78},{"c":36,"r":15,"v":1.12},{"c":37,"r":15,"v":1.10},{"c":38,"r":15,"v":0.50},{"c":39,"r":15,"v":0.42},{"c":40,"r":15,"v":0.37},{"c":41,"r":15,"v":0.36},{"c":42,"r":15,"v":0.35},{"c":43,"r":15,"v":0.35},{"c":44,"r":15,"v":0.34},{"c":45,"r":15,"v":0.34},{"c":46,"r":15,"v":0.33},{"c":47,"r":15,"v":0.32},{"c":48,"r":15,"v":0.32},{"c":49,"r":15,"v":0.33},{"c":50,"r":15,"v":0.33},
{"c":0,"r":16,"v":0.50},{"c":1,"r":16,"v":0.52},{"c":2,"r":16,"v":0.53},{"c":3,"r":16,"v":0.52},{"c":4,"r":16,"v":0.55},{"c":5,"r":16,"v":0.62},{"c":6,"r":16,"v":0.70},{"c":7,"r":16,"v":0.74},{"c":8,"r":16,"v":0.72},{"c":9,"r":16,"v":0.62},{"c":10,"r":16,"v":0.55},{"c":11,"r":16,"v":0.52},{"c":12,"r":16,"v":0.50},{"c":13,"r":16,"v":0.48},{"c":14,"r":16,"v":0.46},{"c":15,"r":16,"v":0.45},{"c":16,"r":16,"v":0.44},{"c":17,"r":16,"v":0.43},{"c":18,"r":16,"v":0.43},{"c":19,"r":16,"v":0.43},{"c":20,"r":16,"v":0.43},{"c":21,"r":16,"v":0.44},{"c":22,"r":16,"v":0.45},{"c":23,"r":16,"v":0.46},{"c":24,"r":16,"v":0.48},{"c":25,"r":16,"v":0.50},{"c":26,"r":16,"v":0.53},{"c":27,"r":16,"v":0.56},{"c":28,"r":16,"v":0.56},{"c":29,"r":16,"v":0.54},{"c":30,"r":16,"v":0.52},{"c":31,"r":16,"v":0.54},{"c":32,"r":16,"v":0.58},{"c":33,"r":16,"v":0.56},{"c":34,"r":16,"v":0.58},{"c":35,"r":16,"v":0.60},{"c":36,"r":16,"v":0.70},{"c":37,"r":16,"v":0.58},{"c":38,"r":16,"v":0.46},{"c":39,"r":16,"v":0.40},{"c":40,"r":16,"v":0.37},{"c":41,"r":16,"v":0.36},{"c":42,"r":16,"v":0.35},{"c":43,"r":16,"v":0.35},{"c":44,"r":16,"v":0.34},{"c":45,"r":16,"v":0.34},{"c":46,"r":16,"v":0.33},{"c":47,"r":16,"v":0.32},{"c":48,"r":16,"v":0.32},{"c":49,"r":16,"v":0.33},{"c":50,"r":16,"v":0.33},
{"c":0,"r":17,"v":0.54},{"c":1,"r":17,"v":0.58},{"c":2,"r":17,"v":0.70},{"c":3,"r":17,"v":0.74},{"c":4,"r":17,"v":0.72},{"c":5,"r":17,"v":0.66},{"c":6,"r":17,"v":0.64},{"c":7,"r":17,"v":0.62},{"c":8,"r":17,"v":0.58},{"c":9,"r":17,"v":0.54},{"c":10,"r":17,"v":0.52},{"c":11,"r":17,"v":0.50},{"c":12,"r":17,"v":0.49},{"c":13,"r":17,"v":0.48},{"c":14,"r":17,"v":0.47},{"c":15,"r":17,"v":0.46},{"c":16,"r":17,"v":0.45},{"c":17,"r":17,"v":0.44},{"c":18,"r":17,"v":0.44},{"c":19,"r":17,"v":0.44},{"c":20,"r":17,"v":0.45},{"c":21,"r":17,"v":0.46},{"c":22,"r":17,"v":0.47},{"c":23,"r":17,"v":0.48},{"c":24,"r":17,"v":0.50},{"c":25,"r":17,"v":0.52},{"c":26,"r":17,"v":0.55},{"c":27,"r":17,"v":0.60},{"c":28,"r":17,"v":0.78},{"c":29,"r":17,"v":0.62},{"c":30,"r":17,"v":0.56},{"c":31,"r":17,"v":0.52},{"c":32,"r":17,"v":0.50},{"c":33,"r":17,"v":0.48},{"c":34,"r":17,"v":0.47},{"c":35,"r":17,"v":0.50},{"c":36,"r":17,"v":0.48},{"c":37,"r":17,"v":0.44},{"c":38,"r":17,"v":0.41},{"c":39,"r":17,"v":0.38},{"c":40,"r":17,"v":0.36},{"c":41,"r":17,"v":0.35},{"c":42,"r":17,"v":0.35},{"c":43,"r":17,"v":0.34},{"c":44,"r":17,"v":0.34},{"c":45,"r":17,"v":0.33},{"c":46,"r":17,"v":0.33},{"c":47,"r":17,"v":0.32},{"c":48,"r":17,"v":0.32},{"c":49,"r":17,"v":0.33},{"c":50,"r":17,"v":0.33},
{"c":0,"r":18,"v":0.56},{"c":1,"r":18,"v":0.62},{"c":2,"r":18,"v":0.85},{"c":3,"r":18,"v":0.88},{"c":4,"r":18,"v":0.76},{"c":5,"r":18,"v":0.70},{"c":6,"r":18,"v":0.62},{"c":7,"r":18,"v":0.56},{"c":8,"r":18,"v":0.52},{"c":9,"r":18,"v":0.50},{"c":10,"r":18,"v":0.48},{"c":11,"r":18,"v":0.47},{"c":12,"r":18,"v":0.46},{"c":13,"r":18,"v":0.46},{"c":14,"r":18,"v":0.45},{"c":15,"r":18,"v":0.45},{"c":16,"r":18,"v":0.44},{"c":17,"r":18,"v":0.44},{"c":18,"r":18,"v":0.44},{"c":19,"r":18,"v":0.45},{"c":20,"r":18,"v":0.46},{"c":21,"r":18,"v":0.47},{"c":22,"r":18,"v":0.48},{"c":23,"r":18,"v":0.50},{"c":24,"r":18,"v":0.52},{"c":25,"r":18,"v":0.55},{"c":26,"r":18,"v":0.60},{"c":27,"r":18,"v":0.80},{"c":28,"r":18,"v":1.05},{"c":29,"r":18,"v":0.70},{"c":30,"r":18,"v":0.58},{"c":31,"r":18,"v":0.52},{"c":32,"r":18,"v":0.48},{"c":33,"r":18,"v":0.46},{"c":34,"r":18,"v":0.44},{"c":35,"r":18,"v":0.42},{"c":36,"r":18,"v":0.40},{"c":37,"r":18,"v":0.38},{"c":38,"r":18,"v":0.37},{"c":39,"r":18,"v":0.36},{"c":40,"r":18,"v":0.35},{"c":41,"r":18,"v":0.35},{"c":42,"r":18,"v":0.34},{"c":43,"r":18,"v":0.34},{"c":44,"r":18,"v":0.33},{"c":45,"r":18,"v":0.33},{"c":46,"r":18,"v":0.33},{"c":47,"r":18,"v":0.32},{"c":48,"r":18,"v":0.32},{"c":49,"r":18,"v":0.33},{"c":50,"r":18,"v":0.33},
{"c":0,"r":19,"v":0.58},{"c":1,"r":19,"v":0.64},{"c":2,"r":19,"v":0.82},{"c":3,"r":19,"v":0.86},{"c":4,"r":19,"v":0.74},{"c":5,"r":19,"v":0.66},{"c":6,"r":19,"v":0.58},{"c":7,"r":19,"v":0.53},{"c":8,"r":19,"v":0.50},{"c":9,"r":19,"v":0.48},{"c":10,"r":19,"v":0.47},{"c":11,"r":19,"v":0.46},{"c":12,"r":19,"v":0.45},{"c":13,"r":19,"v":0.45},{"c":14,"r":19,"v":0.44},{"c":15,"r":19,"v":0.44},{"c":16,"r":19,"v":0.44},{"c":17,"r":19,"v":0.44},{"c":18,"r":19,"v":0.45},{"c":19,"r":19,"v":0.46},{"c":20,"r":19,"v":0.47},{"c":21,"r":19,"v":0.48},{"c":22,"r":19,"v":0.50},{"c":23,"r":19,"v":0.52},{"c":24,"r":19,"v":0.54},{"c":25,"r":19,"v":0.58},{"c":26,"r":19,"v":0.62},{"c":27,"r":19,"v":0.68},{"c":28,"r":19,"v":0.78},{"c":29,"r":19,"v":0.64},{"c":30,"r":19,"v":0.56},{"c":31,"r":19,"v":0.50},{"c":32,"r":19,"v":0.47},{"c":33,"r":19,"v":0.45},{"c":34,"r":19,"v":0.43},{"c":35,"r":19,"v":0.41},{"c":36,"r":19,"v":0.40},{"c":37,"r":19,"v":0.38},{"c":38,"r":19,"v":0.37},{"c":39,"r":19,"v":0.36},{"c":40,"r":19,"v":0.35},{"c":41,"r":19,"v":0.35},{"c":42,"r":19,"v":0.34},{"c":43,"r":19,"v":0.34},{"c":44,"r":19,"v":0.33},{"c":45,"r":19,"v":0.33},{"c":46,"r":19,"v":0.33},{"c":47,"r":19,"v":0.32},{"c":48,"r":19,"v":0.32},{"c":49,"r":19,"v":0.33},{"c":50,"r":19,"v":0.33}
]
},
"vconcat":[
{
"title":{"text":"Fig. 1. Predicted (de-normalised) AOD by DustNet model and corresponding true values for 14th Jan 2020.","anchor":"start","frame":"group","dx":24,"offset":32,"font":"Liberation Sans","fontSize":29.5,"fontWeight":"normal","color":"black","baseline":"top"},
"spacing":0,
"hconcat":[
{
"width":757,"height":247,
"view":{"fill":"black","stroke":null},
"layer":[
{"data":{"name":"left"},
"transform":[{"calculate":"datum.c-0.55","as":"x0"},{"calculate":"datum.c+0.55","as":"x1"},{"calculate":"datum.r-0.55","as":"y0"},{"calculate":"datum.r+0.55","as":"y1"}],
"mark":{"type":"rect","clip":true},
"encoding":{
"x":{"field":"x0","type":"quantitative","scale":{"domain":[-2.76,63.066],"nice":false,"zero":false},"axis":null},
"x2":{"field":"x1"},
"y":{"field":"y0","type":"quantitative","scale":{"domain":[-2.3,19.18],"nice":false,"zero":false,"reverse":true},"axis":{"orient":"left","offset":-26,"values":[0,5,10,15],"ticks":false,"domain":false,"grid":false,"zindex":2,"labelColor":"white","labelFont":"Liberation Sans","labelFontSize":15,"labelPadding":3.5,"title":null}},
"y2":{"field":"y1"},
"color":{"field":"v","type":"quantitative","scale":{"type":"linear","domain":[0,0.423,0.846,1.269,1.692,2.115,2.538,2.961,3.384],"range":["#ffffe5","#fff7bc","#fee391","#fec44f","#fe9929","#ec7014","#cc4c02","#993404","#662506"],"interpolate":"rgb","clamp":true},"legend":null}
}},
{"data":{"values":[{}]},
"mark":{"type":"rect","clip":true,"filled":false,"stroke":"#a8a8a8","strokeWidth":1},
"encoding":{
"x":{"datum":-0.5,"type":"quantitative","scale":{"domain":[-2.76,63.066],"nice":false,"zero":false},"axis":null},
"x2":{"datum":50.5},
"y":{"datum":0,"type":"quantitative","scale":{"domain":[1.2551,3.5787],"nice":false,"zero":false},"axis":null},
"y2":{"datum":3.384}
}},
{"data":{"values":[{}]},
"mark":{"type":"text","clip":false,"color":"white","font":"Liberation Sans","fontSize":17.5,"align":"center","baseline":"alphabetic","text":"AOD preds DustNet, 2020-01-14"},
"encoding":{
"x":{"datum":25,"type":"quantitative","scale":{"domain":[-2.76,63.066],"nice":false,"zero":false},"axis":null},
"y":{"datum":3.4066,"type":"quantitative","scale":{"domain":[1.2551,3.5787],"nice":false,"zero":false},"axis":null}
}},
{"data":{"values":[{}]},
"mark":{"type":"rect","clip":true,"stroke":"#a8a8a8","strokeWidth":1,"fill":{"gradient":"linear","x1":0,"y1":1,"x2":0,"y2":0,"stops":[{"offset":0,"color":"#ffffe5"},{"offset":0.125,"color":"#fff7bc"},{"offset":0.25,"color":"#fee391"},{"offset":0.375,"color":"#fec44f"},{"offset":0.5,"color":"#fe9929"},{"offset":0.625,"color":"#ec7014"},{"offset":0.75,"color":"#cc4c02"},{"offset":0.875,"color":"#993404"},{"offset":1,"color":"#662506"}]}},
"encoding":{
"x":{"datum":50.72,"type":"quantitative","scale":{"domain":[-2.76,63.066],"nice":false,"zero":false},"axis":null},
"x2":{"datum":54.37},
"y":{"datum":0,"type":"quantitative","scale":{"domain":[1.2551,3.5787],"nice":false,"zero":false},"axis":{"orient":"right","offset":-100,"values":[1.5,2,2.5,3],"format":".1f","ticks":false,"domain":false,"grid":false,"zindex":2,"labelColor":"white","labelFont":"Liberation Sans","labelFontSize":15,"labelPadding":-0.5,"title":null}},
"y2":{"datum":3.384}
}}
],
"resolve":{"scale":{"y":"independent"},"axis":{"y":"independent"}}
},
{
"width":680,"height":247,
"view":{"fill":"black","stroke":null},
"layer":[
{"data":{"name":"right"},
"transform":[{"calculate":"datum.c-0.55","as":"x0"},{"calculate":"datum.c+0.55","as":"x1"},{"calculate":"datum.r-0.55","as":"y0"},{"calculate":"datum.r+0.55","as":"y1"}],
"mark":{"type":"rect","clip":true},
"encoding":{
"x":{"field":"x0","type":"quantitative","scale":{"domain":[-2.7348,56.396],"nice":false,"zero":false},"axis":null},
"x2":{"field":"x1"},
"y":{"field":"y0","type":"quantitative","scale":{"domain":[-2.3,19.18],"nice":false,"zero":false,"reverse":true},"axis":{"orient":"left","offset":-25.7,"values":[0,5,10,15],"ticks":false,"domain":false,"grid":false,"zindex":2,"labelColor":"white","labelFont":"Liberation Sans","labelFontSize":15,"labelPadding":2.5,"title":null}},
"y2":{"field":"y1"},
"color":{"field":"v","type":"quantitative","scale":{"type":"linear","domain":[0,0.423,0.846,1.269,1.692,2.115,2.538,2.961,3.384],"range":["#ffffe5","#fff7bc","#fee391","#fec44f","#fe9929","#ec7014","#cc4c02","#993404","#662506"],"interpolate":"rgb","clamp":true},"legend":null}
}},
{"data":{"values":[{}]},
"mark":{"type":"rect","clip":true,"filled":false,"stroke":"#a8a8a8","strokeWidth":1},
"encoding":{
"x":{"datum":-0.5,"type":"quantitative","scale":{"domain":[-2.7348,56.396],"nice":false,"zero":false},"axis":null},
"x2":{"datum":50.5},
"y":{"datum":0,"type":"quantitative","scale":{"domain":[1.2551,3.5787],"nice":false,"zero":false},"axis":null},
"y2":{"datum":3.384}
}},
{"data":{"values":[{}]},
"mark":{"type":"text","clip":false,"color":"white","font":"Liberation Sans","fontSize":17.5,"align":"center","baseline":"alphabetic","text":"True AOD values, 2020-01-14"},
"encoding":{
"x":{"datum":25,"type":"quantitative","scale":{"domain":[-2.7348,56.396],"nice":false,"zero":false},"axis":null},
"y":{"datum":3.4066,"type":"quantitative","scale":{"domain":[1.2551,3.5787],"nice":false,"zero":false},"axis":null}
}},
{"data":{"values":[{}]},
"mark":{"type":"rect","clip":true,"stroke":"#a8a8a8","strokeWidth":1,"fill":{"gradient":"linear","x1":0,"y1":1,"x2":0,"y2":0,"stops":[{"offset":0,"color":"#ffffe5"},{"offset":0.125,"color":"#fff7bc"},{"offset":0.25,"color":"#fee391"},{"offset":0.375,"color":"#fec44f"},{"offset":0.5,"color":"#fe9929"},{"offset":0.625,"color":"#ec7014"},{"offset":0.75,"color":"#cc4c02"},{"offset":0.875,"color":"#993404"},{"offset":1,"color":"#662506"}]}},
"encoding":{
"x":{"datum":50.66,"type":"quantitative","scale":{"domain":[-2.7348,56.396],"nice":false,"zero":false},"axis":null},
"x2":{"datum":54.31},
"y":{"datum":0,"type":"quantitative","scale":{"domain":[1.2551,3.5787],"nice":false,"zero":false},"axis":{"orient":"right","offset":-24,"values":[1.5,2,2.5,3],"format":".1f","ticks":false,"domain":false,"grid":false,"zindex":2,"labelColor":"white","labelFont":"Liberation Sans","labelFontSize":15,"labelPadding":-0.5,"title":null}},
"y2":{"datum":3.384}
}}
],
"resolve":{"scale":{"y":"independent"},"axis":{"y":"independent"}}
}
]
}
],
"config":{"view":{"stroke":null},"font":"Liberation Sans","axis":{"labelFont":"Liberation Sans","titleFont":"Liberation Sans"}}
}
